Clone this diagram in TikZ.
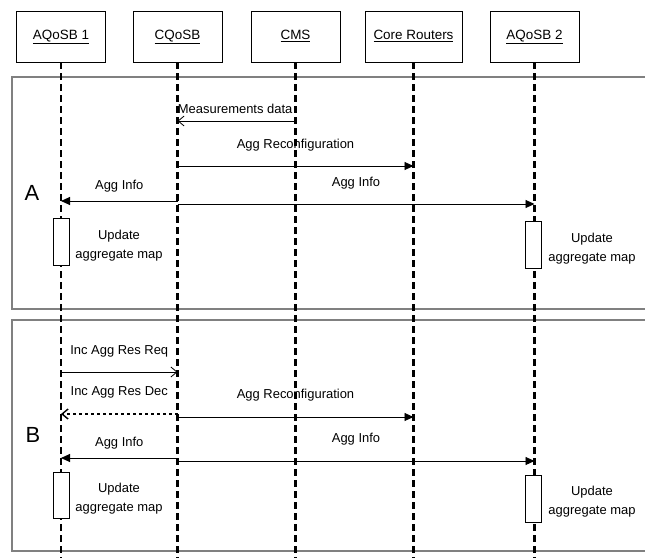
\documentclass[tikz,border=0pt]{standalone}
\usepackage{fontspec}
\setmainfont{Liberation Sans}
\usetikzlibrary{arrows.meta, positioning}

\begin{document}
\begin{tikzpicture}[
                x=1bp, y=-1bp,
                font=\fontsize{13}{15}\selectfont,
                entity/.style={
                        draw, thin,
                        minimum width=89bp, minimum height=51bp,
                        inner sep=0pt, text height=10bp, text depth=4bp,
                        font=\fontsize{13.5}{16}\selectfont
                    },
                life/.style={line width=2.2bp, dash pattern=on 7bp off 4bp},
                frame/.style={draw=black!50, line width=2bp},
                act/.style={
                        draw, fill=white, line width=0.8bp,
                        minimum width=16bp, minimum height=47bp, inner sep=0pt
                    },
                sync/.style={-{Triangle[length=9bp, width=8bp]}, line width=0.9bp},
                async/.style={-{Straight Barb[length=6bp, width=10bp]}, line width=0.8bp},
                lbl/.style={inner sep=0pt},
                note/.style={inner sep=0pt, align=center, font=\fontsize{13}{19}\selectfont},
                phase/.style={inner sep=0pt, font=\fontsize{22}{24}\selectfont},
                ]

                \useasboundingbox (0,0) rectangle (645,558);
                \clip (0,0) rectangle (645,558);

                % phase frames
                \draw[frame] (12,77) rectangle (660,309);
                \draw[frame] (12,320) rectangle (660,551);

                % participants
                \node[entity] (aq1) at (61,36.5) {\underline{AQoSB 1}};
                \node[entity] (cq) at (177.5,36.5) {\underline{CQoSB}};
                \node[entity] (cms) at (295.5,36.5) {\underline{CMS}};
                \node[entity, minimum width=97bp] (core) at (413.5,36.5) {\underline{Core Routers}};
                \node[entity] (aq2) at (534.5,36.5) {\underline{AQoSB 2}};

                \foreach \n in {aq1, cq, cms, core, aq2}
                    \draw[life] (\n.south) -- (\n.south |- 0,570);

                % phase A
                \node[phase] (pha) at (32,193) {A};

                \draw[async] (cms |- 0,121) -- node[pos=1, lbl, above right=7bp and 0bp] (mdata) {Measurements data} (cq |- 0,121);
                \draw[sync] (cq |- 0,166) -- node[lbl, above=14bp] (reconfa) {Agg Reconfiguration} (core |- 0,166);
                \draw[sync] (cq |- 0,201) -- node[lbl, above=8bp] (infoa1) {Agg Info} (aq1 |- 0,201);
                \draw[sync] (cq |- 0,204) -- node[lbl, above=14bp] (infoa2) {Agg Info} (aq2 |- 0,204);

                \node[act] (acta1) at (61,241.5) {};
                \node[act] (acta2) at (533.5,244.5) {};
                \node[note] (upda1) at (119,245.5) {Update\\aggregate map};
                \node[note] (upda2) at (592,248.5) {Update\\aggregate map};

                % phase B
                \node[phase] (phb) at (33,435) {B};

                \draw[async] (aq1 |- 0,372) -- node[lbl, above=14bp] (increq) {Inc Agg Res Req} (cq |- 0,372);
                \draw[async, dashed, line width=1.4bp] (cq |- 0,414) -- node[lbl, above=15bp] (incdec) {Inc Agg Res Dec} (aq1 |- 0,414);
                \draw[sync] (cq |- 0,417) -- node[lbl, above=15bp] (reconfb) {Agg Reconfiguration} (core |- 0,417);
                \draw[sync] (cq |- 0,458) -- node[lbl, above=8bp] (infob1) {Agg Info} (aq1 |- 0,458);
                \draw[sync] (cq |- 0,461) -- node[lbl, above=15bp] (infob2) {Agg Info} (aq2 |- 0,461);

                \node[act, minimum height=46bp] (actb1) at (61,495) {};
                \node[act] (actb2) at (533.5,498.5) {};
                \node[note] (updb1) at (119,499) {Update\\aggregate map};
                \node[note] (updb2) at (592,502) {Update\\aggregate map};
            \end{tikzpicture}
\end{document}
